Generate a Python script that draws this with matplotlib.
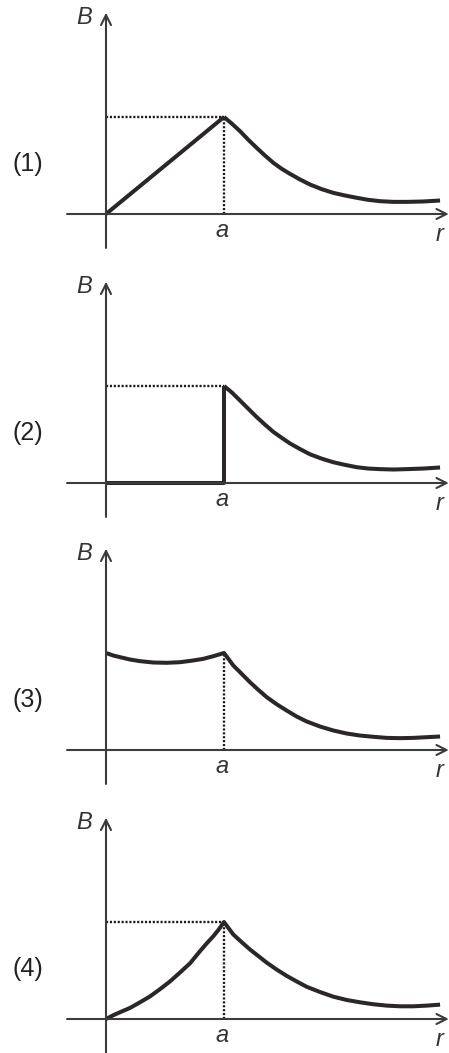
import numpy as np
import matplotlib
matplotlib.use("Agg")
import matplotlib.pyplot as plt

# r in units of a, B in units of the peak value
r_out = [1.0, 1.065, 1.136, 1.206, 1.277, 1.347, 1.418, 1.489, 1.559, 1.644, 1.729,
         1.828, 1.926, 2.025, 2.124, 2.223, 2.322, 2.435, 2.548, 2.689, 2.831]
B1_out = [1.0, 0.933, 0.854, 0.765, 0.682, 0.603, 0.528, 0.466, 0.414, 0.356, 0.304,
          0.256, 0.218, 0.191, 0.167, 0.146, 0.132, 0.125, 0.125, 0.129, 0.139]
r1_in = [0.0, 1.0]
B1_in = [0.0, 1.0]

B2_out = [1.0, 0.935, 0.850, 0.765, 0.680, 0.602, 0.527, 0.466, 0.408, 0.350, 0.296,
          0.251, 0.214, 0.187, 0.163, 0.149, 0.143, 0.139, 0.143, 0.149, 0.160]
r2_in = [0.0, 1.0, 1.0]
B2_in = [0.0, 0.0, 1.0]

r3 = [0.0, 0.062, 0.119, 0.203, 0.288, 0.401, 0.514, 0.627, 0.740, 0.825, 0.910,
      1.0, 1.037, 1.079, 1.150, 1.220, 1.291, 1.362, 1.446, 1.531, 1.616, 1.701,
      1.814, 1.927, 2.040, 2.153, 2.266, 2.379, 2.492, 2.605, 2.718, 2.831]
B3 = [1.0, 0.974, 0.957, 0.933, 0.916, 0.902, 0.899, 0.905, 0.923, 0.940, 0.967,
      1.0, 0.940, 0.871, 0.785, 0.699, 0.620, 0.545, 0.472, 0.407, 0.345, 0.294,
      0.242, 0.201, 0.170, 0.149, 0.136, 0.125, 0.122, 0.125, 0.132, 0.139]

r4 = [0.0, 0.062, 0.119, 0.203, 0.288, 0.373, 0.458, 0.542, 0.627, 0.712, 0.797,
      0.853, 0.910, 0.955, 1.0, 1.037, 1.079, 1.150, 1.220, 1.291, 1.362, 1.446,
      1.531, 1.616, 1.701, 1.814, 1.927, 2.040, 2.153, 2.266, 2.379, 2.492, 2.605,
      2.718, 2.831]
B4 = [0.0, 0.039, 0.070, 0.114, 0.172, 0.233, 0.308, 0.387, 0.479, 0.574, 0.700,
      0.779, 0.854, 0.922, 1.0, 0.939, 0.871, 0.792, 0.717, 0.649, 0.581, 0.510,
      0.445, 0.387, 0.332, 0.278, 0.230, 0.196, 0.172, 0.152, 0.138, 0.131, 0.131,
      0.138, 0.148]

panel_labels = ["(1)", "(2)", "(3)", "(4)"]
curves = [
    [(r1_in, B1_in), (r_out, B1_out)],
    [(r2_in, B2_in), (r_out, B2_out)],
    [(r3, B3)],
    [(r4, B4)],
]
show_hdot = [True, True, False, True]
show_vdot = [True, False, True, True]

W, H = 449, 1053
x_axis_px = [214, 483, 750, 1019]   # pixel row of each r-axis
px_r = 118.0                        # pixels per unit r
px_B = 97.0                         # pixels per unit B
origin_px = 106

curve_col = "#2b2628"
axis_col = "#3c3c3c"
text_col = "#333333"

plt.rcParams["font.family"] = ["Liberation Sans", "DejaVu Sans"]
fig = plt.figure(figsize=(W / 100, H / 100), dpi=100)

for i in range(4):
    y0 = x_axis_px[i]
    top, bot = y0 - 225, y0 + 40
    ax = fig.add_axes([0, 1 - bot / H, 1, (bot - top) / H])
    ax.set_xlim(-origin_px / px_r, (W - origin_px) / px_r)
    ax.set_ylim(-(bot - y0) / px_B, (y0 - top) / px_B)
    ax.axis("off")
    ax.patch.set_alpha(0)

    # axes with open arrows
    ax.annotate("", xy=(2.905, 0), xytext=(-0.33, 0),
                arrowprops=dict(arrowstyle="->", lw=1.5, color=axis_col,
                                mutation_scale=18, shrinkA=0, shrinkB=0))
    ax.annotate("", xy=(0, 2.075), xytext=(0, -0.35),
                arrowprops=dict(arrowstyle="->", lw=1.5, color=axis_col,
                                mutation_scale=18, shrinkA=0, shrinkB=0))

    # dotted guides to the value at r = a
    if show_hdot[i]:
        ax.plot([0, 1], [1, 1], color="#1e1b1c", lw=1.7, ls=(0, (0.9, 0.75)))
    if show_vdot[i]:
        ax.plot([1, 1], [0, 1], color="#1e1b1c", lw=1.7, ls=(0, (0.9, 0.75)))

    for rr, bb in curves[i]:
        ax.plot(rr, bb, color=curve_col, lw=2.9, solid_capstyle="butt",
                solid_joinstyle="round")

    ax.text(-0.186, 2.03, "B", style="italic", fontsize=17, color=text_col,
            ha="center", va="center")
    ax.text(0.983, -0.17, "a", style="italic", fontsize=17, color=text_col,
            ha="center", va="center")
    ax.text(2.83, -0.21, "r", style="italic", fontsize=17, color=text_col,
            ha="center", va="center")
    ax.text(-0.665, 0.52, panel_labels[i], fontsize=18, color="#222222",
            ha="center", va="center")

fig.savefig("out.png", dpi=100, facecolor="white")
